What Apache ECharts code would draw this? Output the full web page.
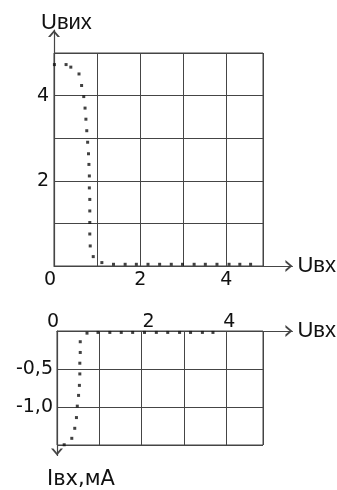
<!DOCTYPE html>
<html>
<head>
<meta charset="utf-8">
<script src="https://cdn.jsdelivr.net/npm/echarts@6/dist/echarts.min.js"></script>
<style>
  html, body { margin: 0; padding: 0; background: #fff; }
  #chart { width: 337px; height: 490px; }
</style>
</head>
<body>
<div id="chart"></div>
<script>
// Transfer characteristic: input voltage (V) and output voltage (V)
const transferUin = [0.01, 0.28, 0.39, 0.58, 0.64, 0.69, 0.72, 0.74, 0.76, 0.78, 0.80, 0.81,
  0.82, 0.82, 0.83, 0.83, 0.83, 0.83, 0.84, 0.91, 1.11, 1.38, 1.65, 1.91, 2.18, 2.45,
  2.72, 2.98, 3.25, 3.51, 3.78, 4.06, 4.31, 4.56];
const transferUout = [4.72, 4.72, 4.66, 4.50, 4.23, 3.97, 3.70, 3.44, 3.17, 2.90, 2.63, 2.38,
  2.11, 1.83, 1.56, 1.29, 1.02, 0.75, 0.47, 0.22, 0.08, 0.04, 0.04, 0.04, 0.04, 0.04,
  0.04, 0.04, 0.04, 0.04, 0.04, 0.04, 0.04, 0.04];

// Input characteristic: input voltage (V) and input current (mA)
const inputUin = [0.17, 0.35, 0.42, 0.46, 0.48, 0.51, 0.53, 0.54, 0.54, 0.55, 0.55, 0.71,
  0.97, 1.25, 1.52, 1.79, 2.07, 2.35, 2.62, 2.90, 3.16, 3.44, 3.69];
const inputI = [-1.59, -1.50, -1.36, -1.21, -1.05, -0.90, -0.76, -0.60, -0.45, -0.30, -0.15, -0.03,
  -0.02, -0.02, -0.02, -0.02, -0.02, -0.02, -0.02, -0.02, -0.02, -0.02, -0.02];

// Tick values that carry a label
const uinLabels = [0, 2, 4];
const uoutLabels = [2, 4];
const currentLabels = [-0.5, -1.0];

const TICK_FONT = '"DejaVu Sans", sans-serif';
const NAME_FONT = '"Liberation Sans", Arial, sans-serif';
const INK = '#111';
const RULE = '#454545';
// open chevron pointing along the axis
const CHEVRON = 'path://M0,7 L6,0 L12,7 L9.6,7 L6,2.8 L2.4,7 Z';

const has = (list, v) => list.some(t => Math.abs(t - v) < 1e-6);
const comma = v => v.toFixed(1).replace('.', ',');
const richTick = pad => ({ fontFamily: TICK_FONT, fontSize: 19, color: INK, padding: pad });

// lower field: origin label pulled left of the corner
const uinTextLow = v => !has(uinLabels, v) ? '' : (v === 0 ? '{o|0}' : String(v));
// upper field: hand-set label offsets along the top axis
const uinTextTop = v => {
  if (!has(uinLabels, v)) return '';
  if (v === 0) return '{o|0}';
  return v === 2 ? '{a|2}' : '{b|' + v + '}';
};

const labelStyle = { color: INK, fontFamily: TICK_FONT, fontSize: 19 };
const splitStyle = { show: true, lineStyle: { color: RULE, width: 1 } };
const hidden = { show: false };
const arrowLine = (symbols, offset) => ({
  show: true,
  onZero: true,
  symbol: symbols,
  symbolSize: [12, 7],
  symbolOffset: offset,
  lineStyle: { color: RULE, width: 1.2 }
});
const nameStyle = (size, extra) => Object.assign({ color: INK, fontFamily: NAME_FONT, fontSize: size }, extra);

const option = {
  animation: false,
  backgroundColor: '#fff',
  grid: [
    // transfer characteristic: ruled field
    { left: 54, top: 53, width: 209, height: 213, show: true, borderColor: RULE, borderWidth: 1 },
    // transfer characteristic: axes with arrows
    { left: 54, top: 30, width: 239, height: 236 },
    // input characteristic: ruled field
    { left: 57, top: 331, width: 206, height: 114, show: true, borderColor: RULE, borderWidth: 1 },
    // input characteristic: axes with arrows
    { left: 57, top: 331, width: 236, height: 132 }
  ],
  xAxis: [
    {
      gridIndex: 0, type: 'value', min: 0, max: 4.85, interval: 1,
      axisLine: hidden, axisTick: hidden, splitLine: splitStyle,
      axisLabel: Object.assign({ margin: 5, formatter: uinTextLow,
        rich: { o: richTick([0, 8, 0, 0]) } }, labelStyle)
    },
    {
      gridIndex: 1, type: 'value', min: 0, max: 5.53,
      axisLine: arrowLine(['none', CHEVRON], [0, -3.5]),
      axisTick: hidden, axisLabel: hidden, splitLine: hidden,
      name: 'Uвх', nameLocation: 'end', nameGap: 5,
      nameTextStyle: nameStyle(22, { align: 'left', verticalAlign: 'middle', padding: [0, 0, 5, 0] })
    },
    {
      gridIndex: 2, type: 'value', position: 'top', min: 0, max: 4.87, interval: 1,
      axisLine: hidden, axisTick: hidden, splitLine: splitStyle,
      axisLabel: Object.assign({ margin: -1, formatter: uinTextTop,
        rich: { o: richTick([0, 8, 0, 0]), a: richTick([0, 0, 0, 14]), b: richTick([0, 0, 0, 6]) } }, labelStyle)
    },
    {
      gridIndex: 3, type: 'value', position: 'top', min: 0, max: 5.57,
      axisLine: arrowLine(['none', CHEVRON], [0, -3.5]),
      axisTick: hidden, axisLabel: hidden, splitLine: hidden,
      name: 'Uвх', nameLocation: 'end', nameGap: 5,
      nameTextStyle: nameStyle(22, { align: 'left', verticalAlign: 'middle', padding: [0, 0, 4, 0] })
    }
  ],
  yAxis: [
    {
      gridIndex: 0, type: 'value', min: 0, max: 5, interval: 1,
      axisLine: hidden, axisTick: hidden, splitLine: splitStyle,
      axisLabel: Object.assign({ margin: 5, formatter: v => has(uoutLabels, v) ? String(v) : '' }, labelStyle)
    },
    {
      gridIndex: 1, type: 'value', min: 0, max: 5.53,
      axisLine: arrowLine(['none', CHEVRON], [0, -3.5]),
      axisTick: hidden, axisLabel: hidden, splitLine: hidden,
      name: 'Uвих', nameLocation: 'end', nameGap: -4,
      nameTextStyle: nameStyle(22, { align: 'left', verticalAlign: 'bottom', padding: [0, 0, 0, -13] })
    },
    {
      gridIndex: 2, type: 'value', min: -1.5, max: 0, interval: 0.5,
      axisLine: hidden, axisTick: hidden, splitLine: splitStyle,
      axisLabel: Object.assign({ margin: 4, formatter: v => has(currentLabels, v) ? comma(v) : '' }, labelStyle)
    },
    {
      gridIndex: 3, type: 'value', min: -1.74, max: 0,
      axisLine: arrowLine([CHEVRON, 'none'], [3.5, 0]),
      axisTick: hidden, axisLabel: hidden, splitLine: hidden,
      name: 'Iвх,мА', nameLocation: 'start', nameGap: 23,
      nameTextStyle: { color: INK, fontFamily: TICK_FONT, fontSize: 21, lineHeight: 2, align: 'left', verticalAlign: 'top', padding: [0, 0, 0, -10] }
    }
  ],
  series: [
    {
      type: 'scatter', xAxisIndex: 1, yAxisIndex: 1,
      symbol: 'rect', symbolSize: 3,
      itemStyle: { color: INK },
      data: transferUin.map((u, i) => [u, transferUout[i]])
    },
    {
      type: 'scatter', xAxisIndex: 3, yAxisIndex: 3,
      symbol: 'rect', symbolSize: 3,
      itemStyle: { color: INK },
      data: inputUin.map((u, i) => [u, inputI[i]])
    }
  ]
};

echarts.init(document.getElementById('chart')).setOption(option);
</script>
</body>
</html>
